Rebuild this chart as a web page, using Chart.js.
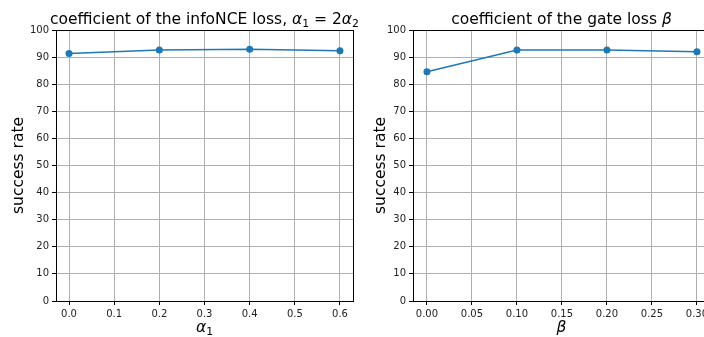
<!DOCTYPE html>
<html>
<head>
<meta charset="utf-8">
<script src="https://cdn.jsdelivr.net/npm/chart.js@4/dist/chart.umd.min.js"></script>
<style>
html, body { margin: 0; padding: 0; background: #fff; overflow: hidden; width: 704px; height: 337px; }
canvas { position: absolute; top: 0; }
#left { left: 0; }
#right { left: 362px; }
</style>
</head>
<body>
<canvas id="left" width="362" height="337"></canvas>
<canvas id="right" width="348" height="337"></canvas>
<script>
// values
const alphaX = [0.0, 0.2, 0.4, 0.6];
const alphaRate = [91.3, 92.6, 92.9, 92.3];
const betaX = [0.00, 0.10, 0.20, 0.30];
const betaRate = [84.6, 92.6, 92.6, 92.0];
const rateTicks = [0, 10, 20, 30, 40, 50, 60, 70, 80, 90, 100];

const FONT = '"DejaVu Sans", sans-serif';

// text with italic greek letters and subscripts, centered over the axes
function mathText(id, parts, baseline, size) {
    return {
        id: id,
        afterDraw(chart) {
            const ctx = chart.ctx;
            const fontFor = p => (p.italic ? 'italic ' : '') + (p.sub ? size * 0.7 : size) + 'px ' + FONT;
            const widths = parts.map(p => { ctx.font = fontFor(p); return ctx.measureText(p.text).width; });
            const total = widths.reduce((a, b) => a + b, 0);
            let x = (chart.chartArea.left + chart.chartArea.right) / 2 - total / 2;
            ctx.save();
            ctx.fillStyle = '#000';
            ctx.textBaseline = 'alphabetic';
            ctx.textAlign = 'left';
            parts.forEach((p, i) => {
                ctx.font = fontFor(p);
                ctx.fillText(p.text, x, baseline + (p.sub ? size * 0.2 : 0));
                x += widths[i];
            });
            ctx.restore();
        }
    };
}

const frame = {
    id: 'frame',
    afterDraw(chart) {
        const a = chart.chartArea;
        const ctx = chart.ctx;
        ctx.save();
        ctx.strokeStyle = '#000';
        ctx.lineWidth = 1;
        ctx.strokeRect(Math.round(a.left) + 0.5, Math.round(a.top) + 0.5,
            Math.round(a.right - a.left), Math.round(a.bottom - a.top));
        ctx.restore();
    }
};

function makeChart(id, xs, ys, xmin, xmax, step, digits, yWidth, padRight, xParts, titleParts) {
    return new Chart(document.getElementById(id), {
        type: 'line',
        data: {
            datasets: [{
                data: xs.map((x, i) => ({ x: x, y: ys[i] })),
                borderColor: '#1f77b4',
                backgroundColor: '#1f77b4',
                borderWidth: 1.5,
                pointRadius: 3.5,
                pointHoverRadius: 3.5,
                pointBorderWidth: 0,
                tension: 0
            }]
        },
        options: {
            responsive: false,
            animation: false,
            layout: { autoPadding: false, padding: { top: 30, left: 0, right: padRight, bottom: 0 } },
            plugins: { legend: { display: false }, title: { display: false }, tooltip: { enabled: false } },
            scales: {
                x: {
                    type: 'linear',
                    min: xmin,
                    max: xmax,
                    afterFit: s => { s.height = 36; s.paddingLeft = 0; s.paddingRight = 0; },
                    border: { display: false },
                    grid: { color: '#b0b0b0', lineWidth: 1, drawTicks: true, tickLength: 4, tickColor: '#000' },
                    ticks: {
                        stepSize: step,
                        includeBounds: false,
                        maxRotation: 0,
                        padding: 3,
                        color: '#222',
                        font: { family: FONT, size: 10 },
                        callback: v => Number(v).toFixed(digits)
                    }
                },
                y: {
                    min: rateTicks[0],
                    max: rateTicks[rateTicks.length - 1],
                    afterFit: s => { s.width = yWidth; s.paddingTop = 0; s.paddingBottom = 0; },
                    afterBuildTicks: s => { s.ticks = rateTicks.map(v => ({ value: v })); },
                    border: { display: false },
                    grid: { color: '#b0b0b0', lineWidth: 1, drawTicks: true, tickLength: 4, tickColor: '#000' },
                    ticks: { padding: 3, color: '#222', font: { family: FONT, size: 10 } },
                    title: { display: true, text: 'success rate', color: '#000', padding: { top: 10, bottom: 0 },
                        font: { family: FONT, size: 15.5 } }
                }
            }
        },
        plugins: [frame, mathText('title', titleParts, 24, 15.5), mathText('xlabel', xParts, 332, 15.5)]
    });
}

makeChart('left', alphaX, alphaRate, -0.0288, 0.6288, 0.1, 1, 56, 9,
    [{ text: 'α', italic: true }, { text: '1', sub: true }], [
    { text: 'coefficient of the infoNCE loss, ' },
    { text: 'α', italic: true },
    { text: '1', sub: true },
    { text: ' = 2' },
    { text: 'α', italic: true },
    { text: '2', sub: true }
]);

makeChart('right', betaX, betaRate, -0.0155, 0.3145, 0.05, 2, 51, 0,
    [{ text: 'β', italic: true }], [
    { text: 'coefficient of the gate loss ' },
    { text: 'β', italic: true }
]);
</script>
</body>
</html>
